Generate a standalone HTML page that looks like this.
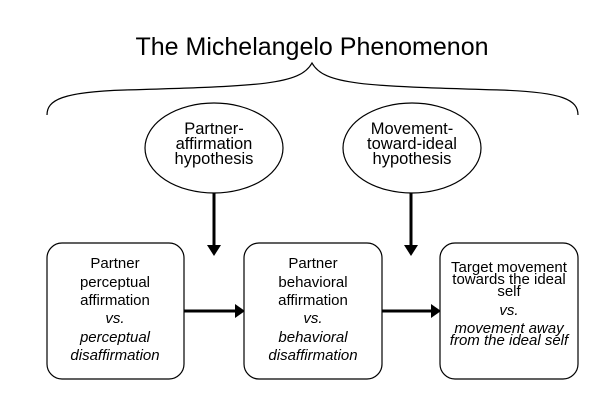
<!DOCTYPE html>
<html><head><style>
body{margin:0;background:#fff;}
svg text{font-family:"Liberation Sans",sans-serif;fill:#000;}
</style></head><body>
<svg width="616" height="410" viewBox="0 0 616 410" xmlns="http://www.w3.org/2000/svg">
<text x="312" y="55" font-size="25" text-anchor="middle">The Michelangelo Phenomenon</text>
<path d="M47,115 C47,100 62,92 125,90 C260,86 300,85 312,63 C324,85 364,86 500,90 C563,92 578,100 578,115" fill="none" stroke="#000" stroke-width="1.2"/>
<ellipse cx="214" cy="148" rx="69" ry="45" fill="#fff" stroke="#000" stroke-width="1.2"/>
<ellipse cx="412" cy="148" rx="69" ry="45" fill="#fff" stroke="#000" stroke-width="1.2"/>
<g font-size="16.5" text-anchor="middle">
<text x="214" y="134">Partner-</text><text x="214" y="149">affirmation</text><text x="214" y="164">hypothesis</text>
<text x="412" y="134">Movement-</text><text x="412" y="149">toward-ideal</text><text x="412" y="164">hypothesis</text>
</g>
<g stroke="#000" stroke-width="3">
<line x1="214" y1="193" x2="214" y2="246"/><line x1="411" y1="193" x2="411" y2="246"/>
<line x1="184" y1="311" x2="236" y2="311"/><line x1="382" y1="311" x2="432" y2="311"/>
</g>
<g fill="#000">
<polygon points="207,245 221,245 214,256"/><polygon points="404,245 418,245 411,256"/>
<polygon points="235,304 235,318 245,311"/><polygon points="431,304 431,318 441,311"/>
</g>
<g fill="#fff" stroke="#000" stroke-width="1.2">
<rect x="47" y="243" width="137" height="136" rx="15"/>
<rect x="244" y="243" width="138" height="136" rx="15"/>
<rect x="440" y="243" width="138" height="136" rx="15"/>
</g>
<g font-size="15" text-anchor="middle">
<text x="115" y="268">Partner</text><text x="115" y="287">perceptual</text><text x="115" y="305">affirmation</text>
<text x="115" y="323" font-style="italic">vs.</text><text x="115" y="342" font-style="italic">perceptual</text><text x="115" y="360" font-style="italic">disaffirmation</text>
<text x="313" y="268">Partner</text><text x="313" y="287">behavioral</text><text x="313" y="305">affirmation</text>
<text x="313" y="323" font-style="italic">vs.</text><text x="313" y="342" font-style="italic">behavioral</text><text x="313" y="360" font-style="italic">disaffirmation</text>
</g>
<g font-size="15" text-anchor="middle">
<text x="509" y="272">Target movement</text><text x="509" y="284">towards the ideal</text><text x="509" y="296">self</text>
<text x="509" y="315" font-style="italic">vs.</text><text x="509" y="333" font-style="italic">movement away</text><text x="509" y="345" font-style="italic">from the ideal self</text>
</g>
</svg>
</body></html>
